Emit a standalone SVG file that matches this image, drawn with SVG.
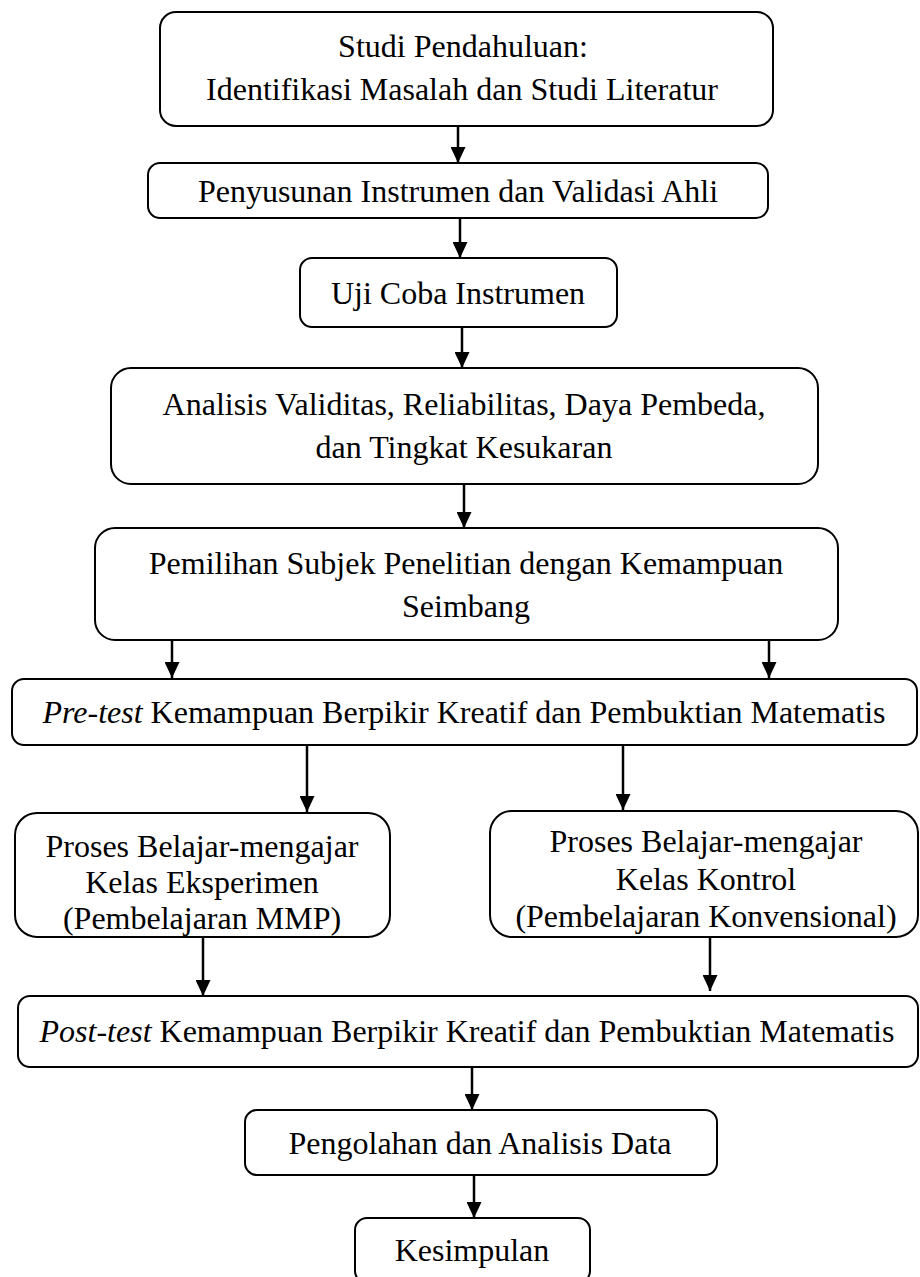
<svg xmlns="http://www.w3.org/2000/svg" width="920" height="1277" viewBox="0 0 920 1277">
<style>
.box{fill:#fff;stroke:#000;stroke-width:2}
.t{font-family:"Liberation Serif","Times New Roman",serif;font-size:32px;fill:#000;text-anchor:middle}
.i{font-style:italic}
.c{stroke:#000;stroke-width:2.5;fill:none;marker-end:url(#ah)}
</style>
<defs>
<marker id="ah" viewBox="0 0 16 15" refX="16" refY="7.5" markerWidth="16" markerHeight="15" markerUnits="userSpaceOnUse" orient="auto">
<path d="M0,0 L16,7.5 L0,15 Z" fill="#000"/>
</marker>
</defs>
<rect width="920" height="1277" fill="#fff"/>
<g id="connectors">
<path class="c" d="M458,126 V163"/>
<path class="c" d="M460,218 V258"/>
<path class="c" d="M462,327 V368"/>
<path class="c" d="M464,484 V528"/>
<path class="c" d="M172,640 V678"/>
<path class="c" d="M769,640 V678"/>
<path class="c" d="M307,745 V812"/>
<path class="c" d="M623,745 V810"/>
<path class="c" d="M203,937 V996"/>
<path class="c" d="M710,937 V991"/>
<path class="c" d="M472,1067 V1110"/>
<path class="c" d="M474,1175 V1218"/>
</g>
<g id="n1"><rect class="box" x="160" y="12" width="613" height="114" rx="16"/>
<text class="t" x="463" y="57">Studi Pendahuluan:</text>
<text class="t" x="462" y="100">Identifikasi Masalah dan Studi Literatur</text></g>
<g id="n2"><rect class="box" x="148" y="163" width="620" height="55" rx="12"/>
<text class="t" x="458" y="202">Penyusunan Instrumen dan Validasi Ahli</text></g>
<g id="n3"><rect class="box" x="300" y="258" width="317" height="69" rx="12"/>
<text class="t" x="458" y="304">Uji Coba Instrumen</text></g>
<g id="n4"><rect class="box" x="111" y="368" width="707" height="116" rx="20"/>
<text class="t" x="464" y="415">Analisis Validitas, Reliabilitas, Daya Pembeda,</text>
<text class="t" x="464" y="458">dan Tingkat Kesukaran</text></g>
<g id="n5"><rect class="box" x="95" y="528" width="743" height="112" rx="20"/>
<text class="t" x="466" y="574">Pemilihan Subjek Penelitian dengan Kemampuan</text>
<text class="t" x="466" y="617">Seimbang</text></g>
<g id="n6"><rect class="box" x="12" y="679" width="905" height="66" rx="12"/>
<text class="t" x="464" y="723"><tspan class="i">Pre-test</tspan> Kemampuan Berpikir Kreatif dan Pembuktian Matematis</text></g>
<g id="n7"><rect class="box" x="15" y="813" width="375" height="124" rx="22"/>
<text class="t" x="202" y="857">Proses Belajar-mengajar</text>
<text class="t" x="202" y="893">Kelas Eksperimen</text>
<text class="t" x="202" y="929">(Pembelajaran MMP)</text></g>
<g id="n8"><rect class="box" x="490" y="811" width="428" height="126" rx="22"/>
<text class="t" x="706" y="852">Proses Belajar-mengajar</text>
<text class="t" x="706" y="890">Kelas Kontrol</text>
<text class="t" x="706" y="927">(Pembelajaran Konvensional)</text></g>
<g id="n9"><rect class="box" x="18" y="996" width="900" height="71" rx="12"/>
<text class="t" x="467" y="1042"><tspan class="i">Post-test</tspan> Kemampuan Berpikir Kreatif dan Pembuktian Matematis</text></g>
<g id="n10"><rect class="box" x="245" y="1110" width="472" height="65" rx="12"/>
<text class="t" x="480" y="1154">Pengolahan dan Analisis Data</text></g>
<g id="n11"><rect class="box" x="355" y="1218" width="235" height="65" rx="12"/>
<text class="t" x="472" y="1261">Kesimpulan</text></g>
</svg>
